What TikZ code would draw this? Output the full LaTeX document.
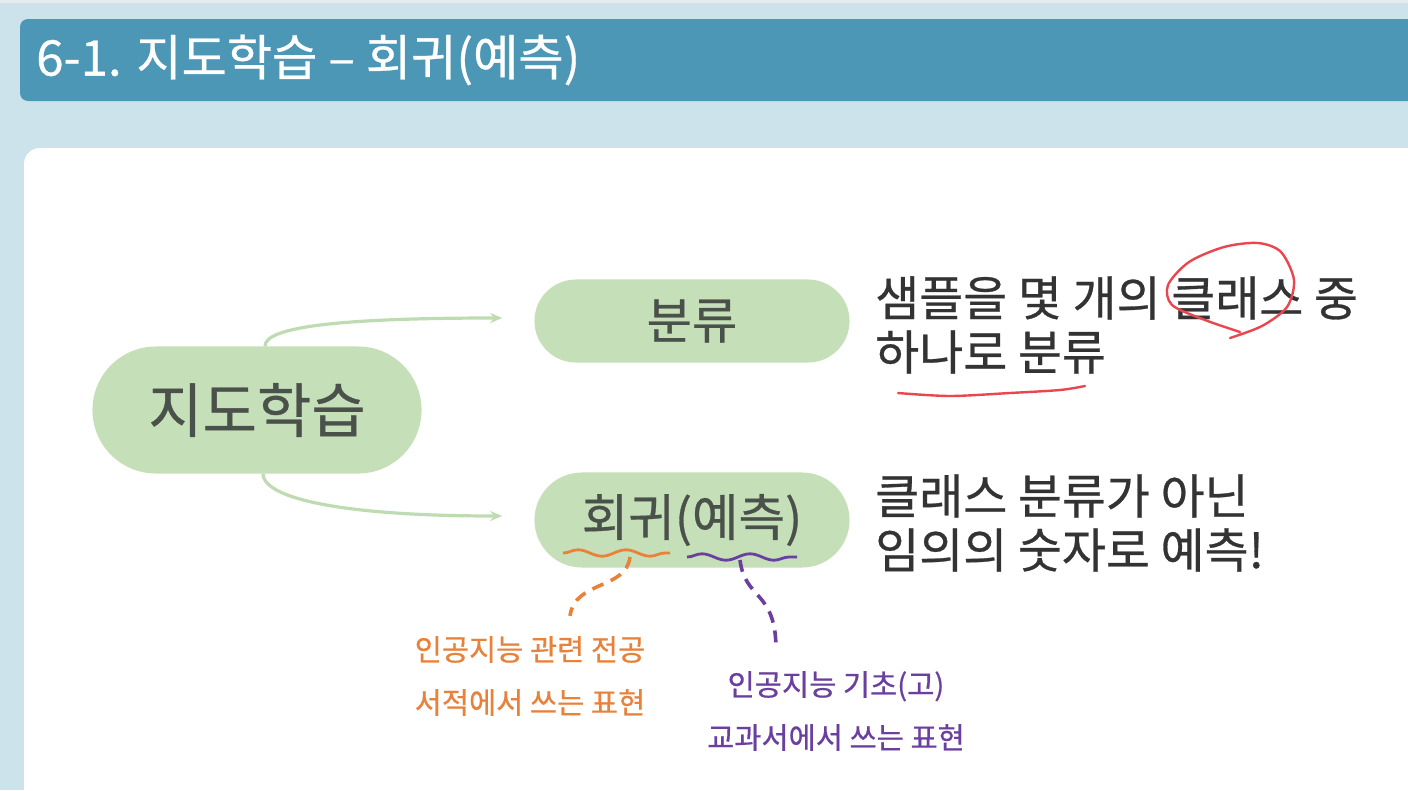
\documentclass[tikz,border=0pt]{standalone}
\usepackage{fontspec}
\setmainfont{Noto Sans CJK KR}[FakeBold=0.6]
\usepackage{tikz}
\usetikzlibrary{positioning,arrows.meta,shapes.misc,decorations.pathmorphing}
\definecolor{PageBlue}{HTML}{CCE3EC}
\definecolor{TopGray}{HTML}{E6EBEF}
\definecolor{HeadBlue}{HTML}{4B97B5}
\definecolor{PillGreen}{HTML}{C5DFB8}
\definecolor{LinkGreen}{HTML}{BFDBB1}
\definecolor{PillText}{HTML}{4A504A}
\definecolor{BodyText}{HTML}{333333}
\definecolor{NoteOrange}{HTML}{E8823A}
\definecolor{NotePurple}{HTML}{6B3FA0}
\definecolor{PenRed}{HTML}{E9474F}

\begin{document}
\begin{tikzpicture}[x=0.025cm, y=-0.025cm,
    pill/.style={rounded rectangle, fill=PillGreen, text=PillText, inner sep=0pt},
    link/.style={LinkGreen, line width=0.08cm, -{Stealth[length=0.3cm, width=0.25cm]}},
    body/.style={text=BodyText, anchor=west, align=left, inner sep=0pt,
      font=\fontsize{34}{38.5}\selectfont},
    note/.style={align=center, inner sep=0pt, font=\fontsize{21}{37.7}\selectfont},
    wave/.style={line width=0.07cm, decorate,
      decoration={snake, amplitude=0.08cm, segment length=1.2cm}},
    lead/.style={line width=0.09cm, dash pattern=on 0.3cm off 0.2cm},
    pen/.style={PenRed, line width=0.06cm, line cap=round}]
    \useasboundingbox (0,0) rectangle (1408,790);
    % slide background
    \fill[PageBlue] (0,0) rectangle (1408,790);
    \fill[TopGray] (0,0) rectangle (1408,3);
    \fill[HeadBlue, rounded corners=0.2cm] (20,19) rectangle (1440,101);
    \fill[white, rounded corners=0.4cm] (24,148) rectangle (1440,830);
    \node[anchor=west, text=white, inner sep=0pt, font=\fontsize{35}{35}\selectfont]
      (title) at (36,60) {6-1. 지도학습 – 회귀(예측)};

    % mind map
    \node[pill, minimum width=8.225cm, minimum height=3.175cm,
      font=\fontsize{42}{42}\selectfont] (supervised) at (257,410) {지도학습};
    \node[pill, minimum width=7.875cm, minimum height=2.075cm,
      font=\fontsize{35}{35}\selectfont] (classify) at (692,321) {분류};
    \node[pill, minimum width=7.875cm, minimum height=2.375cm,
      font=\fontsize{36}{36}\selectfont] (regress) at (692,520) {회귀(예측)};
    \draw[link] ([xshift=0.2cm]supervised.north) .. controls (265,328) and (330,318) ..
      ([xshift=-0.8cm, yshift=0.075cm]classify.west);
    \draw[link] ([xshift=0.15cm]supervised.south) .. controls (263,496) and (330,516) ..
      ([xshift=-0.8cm, yshift=0.1cm]regress.west);

    \node[body] (clstext) at (875,325) {샘플을 몇 개의 클래스 중\\하나로 분류};
    \node[body] (regtext) at (875,523) {클래스 분류가 아닌\\임의의 숫자로 예측!};

    % pen marks
    \draw[pen] plot[smooth] coordinates {(1230,338) (1262,326) (1287,307) (1294,280)
      (1281,252) (1258,243) (1224,247) (1189,262) (1168,285) (1172,305) (1205,320) (1240,332)};
    \draw[pen] plot[smooth] coordinates {(898,393) (950,396) (1010,393) (1060,390) (1085,386)};

    % notes under the regression node
    \coordinate (wordA) at (630,557);
    \coordinate (wordB) at (740,560);
    \draw[NoteOrange, wave] (563,553) -- (670,553);
    \draw[NotePurple, wave] (687,557) -- (797,557);
    \node[note, text=NoteOrange] (booknote) at (530,676) {인공지능 관련 전공\\서적에서 쓰는 표현};
    \node[note, text=NotePurple] (textnote) at (836,711) {인공지능 기초(고)\\교과서에서 쓰는 표현};
    \draw[NoteOrange, lead] (wordA) .. controls (626,590) and (575,580) ..
      ([xshift=1cm, yshift=0.5cm]booknote.north);
    \draw[NotePurple, lead] (wordB) .. controls (745,600) and (775,590) ..
      ([xshift=-1.5cm, yshift=0.6cm]textnote.north);
\end{tikzpicture}
\end{document}
